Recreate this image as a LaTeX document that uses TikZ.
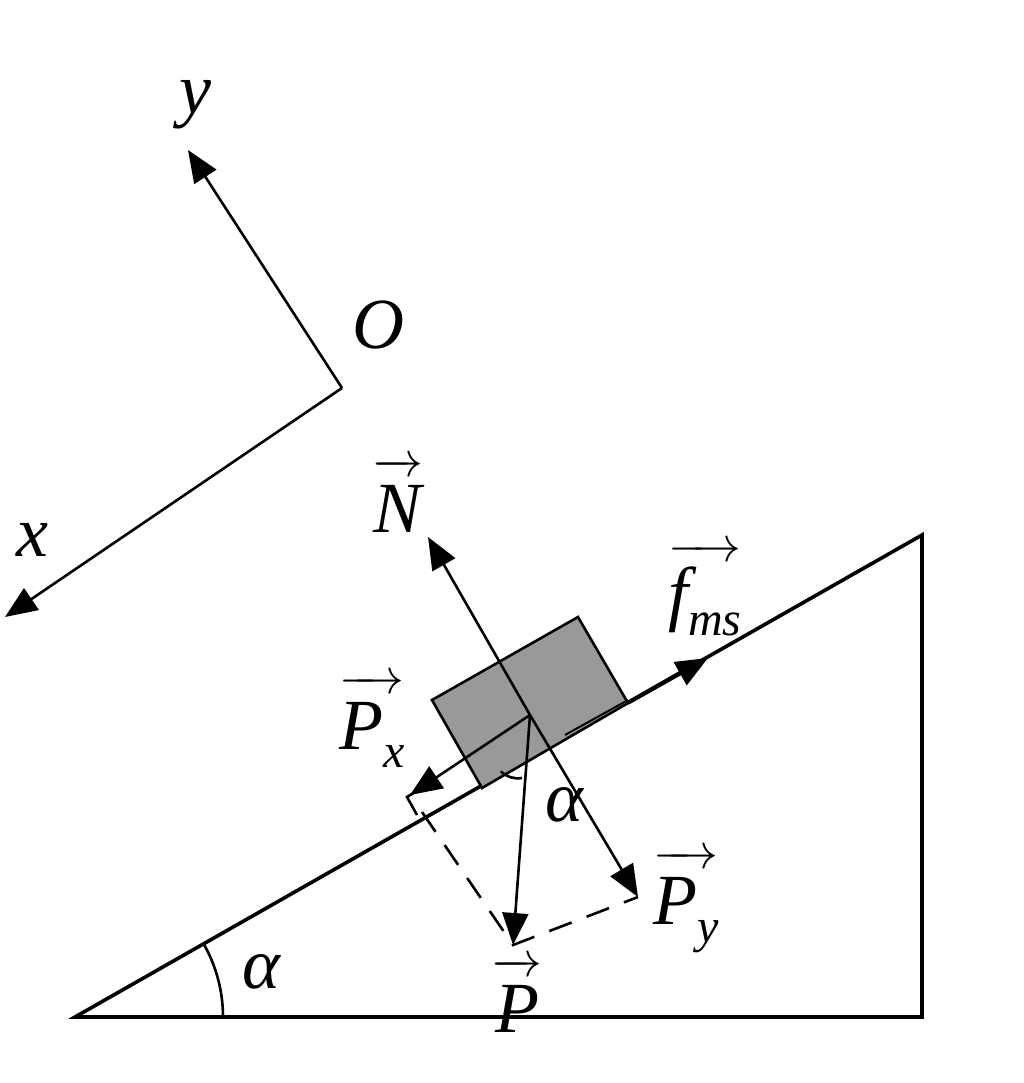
\documentclass[tikz,border=0pt]{standalone}
\usepackage{fontspec}
\setmainfont{Liberation Serif}
\usetikzlibrary{arrows.meta}
\newcommand\myvec[1]{$\overrightarrow{\rule{0pt}{29pt}\smash{#1}}$}
\newcommand\mysub[1]{\raisebox{-9pt}{\fontsize{24}{26}\selectfont\textit{#1}}}
\begin{document}
\begin{tikzpicture}[x=0.5pt,y=-0.5pt,line width=1.3pt,
  vec/.style={-{Triangle[length=16pt,width=13pt]}},
  lab/.style={font=\fontsize{36}{40}\selectfont,inner sep=0pt}]
\useasboundingbox (0,0) rectangle (1024,1083);
% incline
\coordinate (A) at (75,1017); \coordinate (B) at (922,1017); \coordinate (C) at (922,535);
\draw[line width=1.8pt] (A) -- (B) -- (C) -- cycle;
\draw (A) ++(148,0) arc[start angle=0,end angle=29.6,radius=74pt];
\node[lab] at (262,972) {\textit{α}};
% axes
\coordinate (O) at (342,388);
\coordinate (Y) at (188,150);
\coordinate (X) at (5,617);
\draw[vec] (O) -- (Y);
\draw[vec] (O) -- (X);
\node[lab] (ly) at (195,105) {\textit{y}};
\node[lab] (lO) at (378,325) {\textit{O}};
\node[lab] (lx) at (32,540) {\textit{x}};
% block
\draw[fill=black!40] (432,700) -- (578,617) -- (628,703) -- (482,788) -- cycle;
\draw[line width=1pt] (565,735) -- (628,700);
% forces
\coordinate (G) at (530,715);
\coordinate (N) at (428,537);
\coordinate (Py) at (638,897);
\coordinate (Px) at (410,795);
\coordinate (P) at (513,945);
\coordinate (F0) at (628,703);
\coordinate (F1) at (708,658);
\draw[vec] (G) -- (N);
\draw[vec] (G) -- (Py);
\draw[vec] (G) -- (Px);
\draw[vec] (G) -- (P);
\draw[vec,line width=1.8pt] (F0) -- (F1);
\draw[dashed,dash pattern=on 12pt off 8pt] (422,812) -- (P) -- (Py);
\draw (420,789) -- (407,797) -- (417,815);
\draw (522,778) arc[start angle=-80,end angle=-135,radius=12pt];
\node[lab] at (565,805) {\textit{α}};
% labels
\node[lab] at (398,495) {\myvec{\textit{N}}};
\node[lab] at (705,580) {\myvec{\textit{f}\mysub{ms}}};
\node[lab] at (372,712) {\myvec{\textit{P}\mysub{x}}};
\node[lab] at (686,887) {\myvec{\textit{P}\mysub{y}}};
\node[lab] at (517,995) {\myvec{\textit{P}}};
\end{tikzpicture}
\end{document}
